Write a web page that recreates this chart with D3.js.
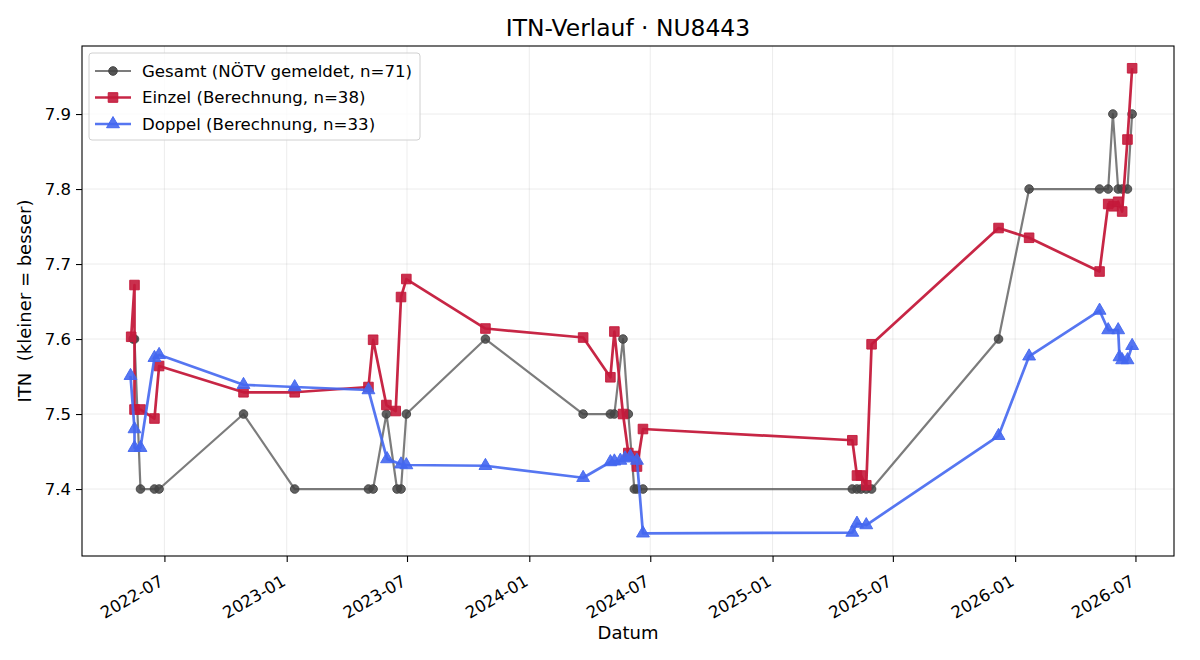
<!DOCTYPE html>
<html>
<head>
<meta charset="utf-8">
<script src="https://cdn.jsdelivr.net/npm/d3@7"></script>
<style>
  body { margin: 0; background: #fff; }
  svg { font-family: "DejaVu Sans", sans-serif; }
  .grid line { stroke: #b0b0b0; stroke-opacity: 0.3; stroke-width: 0.8; }
  .axis path, .axis line { stroke: #000; stroke-width: 1.1; }
</style>
</head>
<body>
<div id="chart"></div>
<script>
// Gesamt (NÖTV gemeldet)
var gesamtDates = ["2022-05-15","2022-05-17","2022-05-26","2022-06-16","2022-06-23","2022-10-28","2023-01-13",
  "2023-05-04","2023-05-11","2023-05-31","2023-06-16","2023-06-22","2023-06-30","2023-10-27","2024-03-22",
  "2024-05-02","2024-05-08","2024-05-21","2024-05-29","2024-06-07","2024-06-11","2024-06-20","2025-05-01",
  "2025-05-08","2025-05-14","2025-05-22","2025-05-30","2025-12-07","2026-01-22","2026-05-08","2026-05-21",
  "2026-05-28","2026-06-05","2026-06-11","2026-06-19","2026-06-26"];
var gesamtValues = [7.6,7.6,7.4,7.4,7.4,7.5,7.4,
  7.4,7.4,7.5,7.4,7.4,7.5,7.6,7.5,
  7.5,7.5,7.6,7.5,7.4,7.4,7.4,7.4,
  7.4,7.4,7.4,7.4,7.6,7.8,7.8,7.8,
  7.9,7.8,7.8,7.8,7.9];

// Einzel (Berechnung)
var einzelDates = ["2022-05-12","2022-05-17","2022-05-17","2022-05-26","2022-06-16","2022-06-23","2022-10-28",
  "2023-01-13","2023-05-04","2023-05-11","2023-05-31","2023-06-14","2023-06-22","2023-06-30","2023-10-27",
  "2024-03-22","2024-05-02","2024-05-08","2024-05-21","2024-05-29","2024-06-08","2024-06-11","2024-06-20",
  "2025-05-01","2025-05-08","2025-05-14","2025-05-22","2025-05-30","2025-12-07","2026-01-22","2026-05-08",
  "2026-05-21","2026-05-29","2026-06-05","2026-06-11","2026-06-19","2026-06-26"];
var einzelValues = [7.603,7.672,7.506,7.506,7.494,7.564,7.529,
  7.529,7.536,7.599,7.512,7.504,7.656,7.680,7.614,
  7.602,7.549,7.610,7.500,7.448,7.444,7.430,7.480,
  7.465,7.418,7.418,7.405,7.593,7.748,7.735,7.690,
  7.780,7.777,7.783,7.770,7.866,7.961];

// Doppel (Berechnung)
var doppelDates = ["2022-05-11","2022-05-17","2022-05-17","2022-05-26","2022-06-16","2022-06-23","2022-10-28",
  "2023-01-13","2023-05-04","2023-06-01","2023-06-22","2023-06-30","2023-10-27","2024-03-22","2024-05-02",
  "2024-05-08","2024-05-17","2024-05-24","2024-06-01","2024-06-11","2024-06-20","2025-05-01","2025-05-08",
  "2025-05-22","2025-12-07","2026-01-22","2026-05-08","2026-05-21","2026-06-05","2026-06-07","2026-06-11",
  "2026-06-19","2026-06-26"];
var doppelValues = [7.551,7.480,7.455,7.455,7.575,7.579,7.539,
  7.536,7.532,7.440,7.433,7.432,7.431,7.415,7.436,
  7.437,7.438,7.441,7.443,7.438,7.341,7.342,7.354,
  7.352,7.471,7.577,7.638,7.612,7.612,7.576,7.572,
  7.572,7.591];

var seriesNames = ["Gesamt (NÖTV gemeldet, n=71)", "Einzel (Berechnung, n=38)", "Doppel (Berechnung, n=33)"];
var xTickLabels = ["2022-07","2023-01","2023-07","2024-01","2024-07","2025-01","2025-07","2026-01","2026-07"];
var yTickValues = [7.4, 7.5, 7.6, 7.7, 7.8, 7.9];

var parse = d3.utcParse("%Y-%m-%d");

var margin = {top: 46, right: 26, bottom: 104, left: 82};
var W = 1200, H = 660;
var width = W - margin.left - margin.right,
    height = H - margin.top - margin.bottom;

var svg = d3.select("#chart").append("svg")
    .attr("width", W)
    .attr("height", H);

var g = svg.append("g")
    .attr("transform", "translate(" + margin.left + "," + margin.top + ")");

var x = d3.scaleUtc()
    .domain([parse("2022-02-27"), parse("2026-08-28")])
    .range([0, width]);

var y = d3.scaleLinear()
    .domain([7.3107, 7.9907])
    .range([height, 0]);

var xTicks = xTickLabels.map(function (s) { return d3.utcParse("%Y-%m")(s); });

// grid
g.append("g").attr("class", "grid")
    .selectAll("line.gx").data(xTicks).enter().append("line")
    .attr("x1", function (d) { return x(d); }).attr("x2", function (d) { return x(d); })
    .attr("y1", 0).attr("y2", height);
g.append("g").attr("class", "grid")
    .selectAll("line.gy").data(yTickValues).enter().append("line")
    .attr("y1", function (d) { return y(d); }).attr("y2", function (d) { return y(d); })
    .attr("x1", 0).attr("x2", width);

// axes
var xAxis = g.append("g").attr("class", "axis")
    .attr("transform", "translate(0," + height + ")")
    .call(d3.axisBottom(x).tickValues(xTicks).tickFormat(d3.utcFormat("%Y-%m")).tickSize(6));
xAxis.attr("font-size", 16.5).attr("font-family", "DejaVu Sans");
xAxis.select(".domain").remove();
xAxis.selectAll("text")
    .attr("x", 0).attr("y", 0)
    .attr("text-anchor", "end")
    .attr("dy", "0.8em")
    .attr("fill", "#000")
    .attr("transform", "translate(-7,17) rotate(-30)");

var yAxis = g.append("g").attr("class", "axis")
    .call(d3.axisLeft(y).tickValues(yTickValues).tickFormat(d3.format(".1f")).tickSize(6).tickPadding(5));
yAxis.attr("font-size", 16.5).attr("font-family", "DejaVu Sans");
yAxis.selectAll("text").attr("fill", "#000");
yAxis.select(".domain").remove();

// frame
g.append("rect")
    .attr("width", width).attr("height", height)
    .attr("fill", "none").attr("stroke", "#000").attr("stroke-width", 1.1);

function makeData(dates, values) {
    return dates.map(function (d, i) { return {date: parse(d), value: values[i]}; });
}

var line = d3.line()
    .x(function (d) { return x(d.date); })
    .y(function (d) { return y(d.value); });

var series = [
    {data: makeData(gesamtDates, gesamtValues), color: "#444444", lineOpacity: 0.7, width: 2.2, marker: "circle"},
    {data: makeData(einzelDates, einzelValues), color: "#c41a3b", lineOpacity: 0.95, width: 2.7, marker: "square"},
    {data: makeData(doppelDates, doppelValues), color: "#4467f0", lineOpacity: 0.9, width: 2.7, marker: "triangle"}
];

var symbolType = {circle: d3.symbolCircle, square: d3.symbolSquare, triangle: d3.symbolTriangle};
var symbolSize = {circle: 58, square: 92, triangle: 72};

series.forEach(function (s) {
    var sg = g.append("g");
    sg.append("path")
        .datum(s.data)
        .attr("d", line)
        .attr("fill", "none")
        .attr("stroke", s.color)
        .attr("stroke-opacity", s.lineOpacity)
        .attr("stroke-width", s.width)
        .attr("stroke-linejoin", "round");
    sg.selectAll("path.marker")
        .data(s.data)
        .enter().append("path")
        .attr("class", "marker")
        .attr("d", d3.symbol().type(symbolType[s.marker]).size(symbolSize[s.marker]))
        .attr("transform", function (d) { return "translate(" + x(d.date) + "," + y(d.value) + ")"; })
        .attr("fill", s.color)
        .attr("fill-opacity", s.marker == "circle" ? 0.85 : 0.9)
        .attr("stroke", s.color)
        .attr("stroke-opacity", 0.9)
        .attr("stroke-width", 1);
});

// legend
var legend = g.append("g").attr("transform", "translate(7,7)");
legend.append("rect")
    .attr("width", 331).attr("height", 87)
    .attr("rx", 3)
    .attr("fill", "#fff").attr("fill-opacity", 0.8)
    .attr("stroke", "#d0d0d0");

series.forEach(function (s, i) {
    var ly = 18 + i * 26.5;
    var row = legend.append("g").attr("transform", "translate(0," + ly + ")");
    row.append("line")
        .attr("x1", 6).attr("x2", 42)
        .attr("stroke", s.color).attr("stroke-opacity", s.lineOpacity)
        .attr("stroke-width", s.width);
    row.append("path")
        .attr("d", d3.symbol().type(symbolType[s.marker]).size(symbolSize[s.marker]))
        .attr("transform", "translate(24,0)")
        .attr("fill", s.color).attr("fill-opacity", 0.9)
        .attr("stroke", s.color).attr("stroke-width", 1);
    row.append("text")
        .attr("x", 53).attr("dy", "0.35em")
        .attr("font-size", "16.6px")
        .text(seriesNames[i]);
});

// title and labels
svg.append("text")
    .attr("x", margin.left + width / 2).attr("y", 36)
    .attr("text-anchor", "middle")
    .attr("font-size", "23.4px")
    .text("ITN-Verlauf · NU8443");

svg.append("text")
    .attr("x", margin.left + width / 2).attr("y", 639)
    .attr("text-anchor", "middle")
    .attr("font-size", "18px")
    .text("Datum");

svg.append("text")
    .attr("transform", "translate(31," + (margin.top + height / 2) + ") rotate(-90)")
    .attr("text-anchor", "middle")
    .attr("font-size", "18px")
    .style("white-space", "pre")
    .text("ITN\u00a0\u00a0(kleiner = besser)");
</script>
</body>
</html>
